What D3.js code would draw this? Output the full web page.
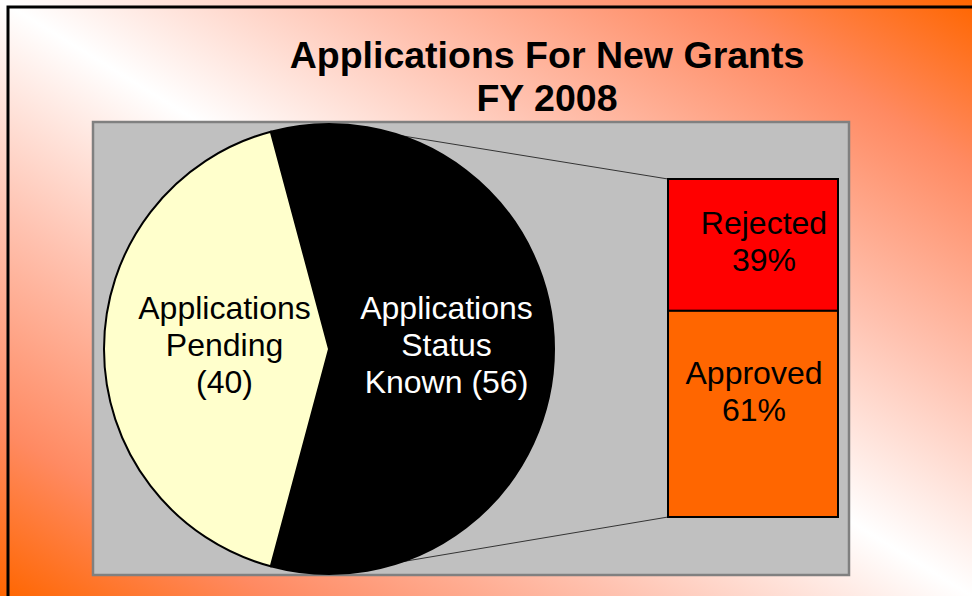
<!DOCTYPE html>
<html lang="en">
<head>
<meta charset="UTF-8">
<title>Applications For New Grants</title>
<script src="https://d3js.org/d3.v7.min.js"></script>
<style>
  body { margin: 0; }
  svg { display: block; font-family: "Liberation Sans", Arial, sans-serif; }
</style>
</head>
<body>
<div id="chart"></div>
<script>
// data
var titleLines = ["Applications For New Grants", "FY 2008"];
var pieNames = ["Applications Status Known", "Applications Pending"];
var pieValues = [56, 40];
var pieColors = ["#000000", "#ffffcc"];
var pieText = [["Applications", "Status", "Known (56)"], ["Applications", "Pending", "(40)"]];
var barNames = ["Rejected", "Approved"];
var barValues = [39, 61];
var barColors = ["#ff0000", "#ff6600"];

var W = 972, H = 596;
var svg = d3.select("#chart").append("svg")
    .attr("width", W).attr("height", H);

// background gradient, orange at top-right and bottom-left corners
var grad = svg.append("defs").append("linearGradient")
    .attr("id", "bg")
    .attr("x1", 0).attr("y1", 1).attr("x2", 1).attr("y2", 0);
[[0, "#ff6600"], [0.14, "#ff8a62"], [0.32, "#ffc2b0"], [0.5, "#ffffff"],
 [0.68, "#ffc2b0"], [0.86, "#ff8a62"], [1, "#ff6600"]].forEach(function (s) {
    grad.append("stop").attr("offset", s[0]).attr("stop-color", s[1]);
});
svg.append("rect").attr("width", W).attr("height", H).attr("fill", "url(#bg)");
svg.append("rect")
    .attr("x", 8).attr("y", 7).attr("width", W + 20).attr("height", H + 20)
    .attr("fill", "none").attr("stroke", "#000").attr("stroke-width", 3);

// title
svg.append("text")
    .attr("x", 547).attr("y", 68)
    .attr("text-anchor", "middle")
    .style("font-size", "37.5px").style("font-weight", "bold")
    .selectAll("tspan").data(titleLines).enter().append("tspan")
    .attr("x", 547).attr("dy", function (d, i) { return i ? 43 : 0; })
    .text(function (d) { return d; });

// plot area
var plot = { x: 93, y: 122, w: 756, h: 453 };
svg.append("rect")
    .attr("x", plot.x).attr("y", plot.y).attr("width", plot.w).attr("height", plot.h)
    .attr("fill", "#c0c0c0").attr("stroke", "#808080").attr("stroke-width", 2.5);

var cx = 329, cy = 349, r = 225;
var bar = { x: 668, y: 179, w: 170, h: 338 };

var y = d3.scaleLinear()
    .domain([0, d3.sum(barValues)])
    .range([bar.y, bar.y + bar.h]);

// connector lines (under the pie)
svg.append("line")
    .attr("x1", cx).attr("y1", cy - r).attr("x2", bar.x).attr("y2", y(0))
    .attr("stroke", "#333").attr("stroke-width", 1);
svg.append("line")
    .attr("x1", cx).attr("y1", cy + r).attr("x2", bar.x).attr("y2", y(d3.sum(barValues)))
    .attr("stroke", "#333").attr("stroke-width", 1);

// pie
var deg = Math.PI / 180;
var pie = d3.pie().sort(null).startAngle(-15 * deg).endAngle(345 * deg);
var arcs = pie(pieValues);
var arc = d3.arc().innerRadius(0).outerRadius(r);
var labelArc = d3.arc().innerRadius(0).outerRadius(225);

var g = svg.append("g").attr("transform", "translate(" + cx + "," + cy + ")");
g.selectAll("path").data(arcs).enter().append("path")
    .attr("d", arc)
    .attr("fill", function (d, i) { return pieColors[i]; })
    .attr("stroke", "#000").attr("stroke-width", 2);

g.selectAll("text.slice").data(arcs).enter().append("text")
    .attr("class", "slice")
    .attr("text-anchor", "middle")
    .style("font-size", "32px")
    .attr("fill", function (d, i) { return i === 0 ? "#fff" : "#000"; })
    .each(function (d, i) {
        var c = labelArc.centroid(d);
        var px = i === 0 ? c[0] + 5 : c[0] + 8;
        d3.select(this).selectAll("tspan").data(pieText[i]).enter().append("tspan")
            .attr("x", px)
            .attr("y", function (t, k) { return -30 + k * 37; })
            .text(function (t) { return t; });
    });

// bar of pie
var stack = d3.cumsum(barValues);
var segs = barValues.map(function (v, i) { return { name: barNames[i], v: v, y0: stack[i] - v, y1: stack[i] }; });

svg.selectAll("rect.seg").data(segs).enter().append("rect")
    .attr("class", "seg")
    .attr("x", bar.x).attr("width", bar.w)
    .attr("y", function (d) { return y(d.y0); })
    .attr("height", function (d) { return y(d.y1) - y(d.y0); })
    .attr("fill", function (d, i) { return barColors[i]; })
    .attr("stroke", "#000").attr("stroke-width", 2);

var segOffset = [[96, 55], [86, 73]];
svg.selectAll("text.seg").data(segs).enter().append("text")
    .attr("class", "seg")
    .attr("text-anchor", "middle")
    .style("font-size", "32px")
    .each(function (d, i) {
        var px = bar.x + segOffset[i][0];
        var py = y(d.y0) + segOffset[i][1];
        d3.select(this).selectAll("tspan").data([d.name, d.v + "%"]).enter().append("tspan")
            .attr("x", px)
            .attr("y", function (t, k) { return py + k * 37; })
            .text(function (t) { return t; });
    });
</script>
</body>
</html>
